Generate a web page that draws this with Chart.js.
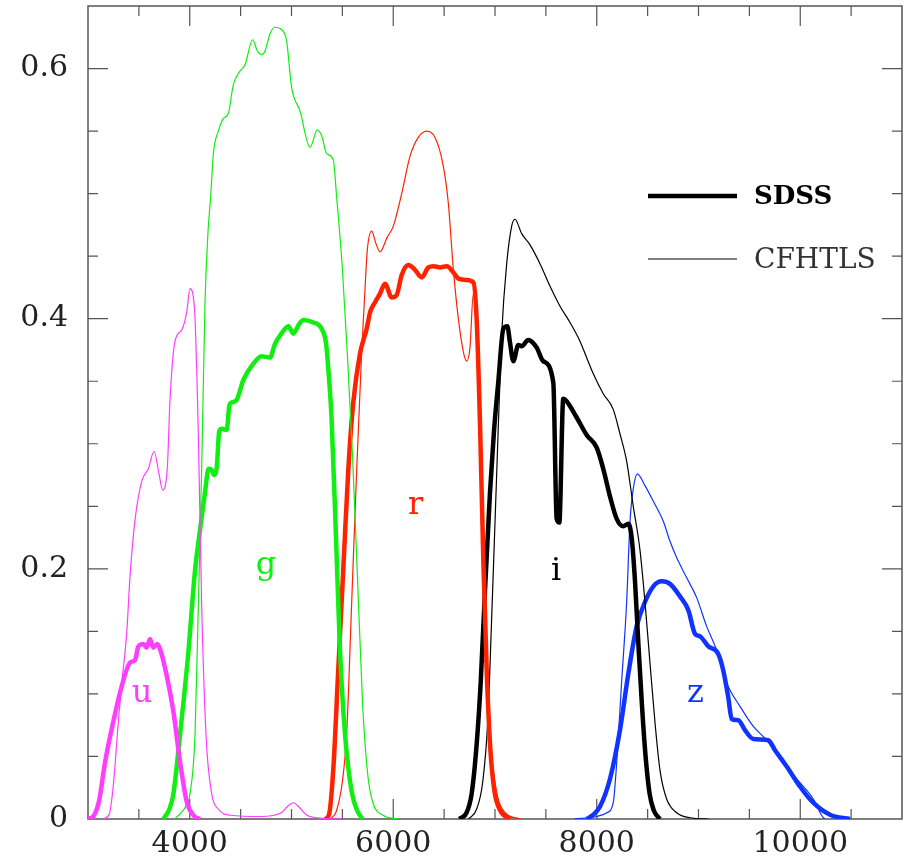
<!DOCTYPE html>
<html>
<head>
<meta charset="utf-8">
<script src="https://cdn.jsdelivr.net/npm/chart.js@4.4.1/dist/chart.umd.min.js"></script>
<style>
  html, body { margin: 0; padding: 0; background: #fff; }
  #wrap { width: 910px; height: 866px; }
</style>
</head>
<body>
<div id="wrap"><canvas id="filterChart"></canvas></div>
<script>
// [wavelength (A), throughput] pairs
const sdssU = [[3000,0],[3060,0.003],[3110,0.015],[3167,0.045],[3249,0.078],[3331,0.106],[3413,0.125],[3462,0.127],[3495,0.138],[3543,0.140],[3576,0.137],[3609,0.144],[3642,0.137],[3681,0.140],[3708,0.136],[3773,0.115],[3839,0.086],[3904,0.046],[3970,0.014],[4035,0.003],[4100,0]];
const cfhtU = [[3150,0],[3210,0.004],[3240,0.02],[3265,0.042],[3300,0.08],[3331,0.108],[3380,0.148],[3413,0.194],[3462,0.239],[3528,0.27],[3593,0.28],[3649,0.294],[3700,0.275],[3733,0.263],[3779,0.28],[3806,0.335],[3855,0.382],[3921,0.391],[3970,0.405],[4002,0.424],[4030,0.42],[4052,0.40],[4085,0.305],[4117,0.172],[4160,0.067],[4216,0.02],[4280,0.008],[4400,0.003],[4700,0.002],[4900,0.005],[4960,0.01],[5018,0.013],[5080,0.009],[5150,0.003],[5250,0.001],[5500,0]];
const sdssG = [[3740,0],[3800,0.008],[3839,0.02],[3904,0.067],[3986,0.133],[4052,0.199],[4101,0.231],[4150,0.261],[4185,0.28],[4216,0.279],[4240,0.275],[4264,0.28],[4290,0.31],[4314,0.312],[4363,0.311],[4390,0.331],[4412,0.333],[4461,0.335],[4527,0.351],[4625,0.364],[4707,0.37],[4789,0.369],[4838,0.38],[4900,0.388],[4969,0.394],[5018,0.388],[5070,0.395],[5116,0.399],[5215,0.397],[5296,0.392],[5340,0.38],[5362,0.36],[5394,0.32],[5437,0.226],[5477,0.134],[5526,0.068],[5591,0.022],[5650,0.006],[5700,0]];
const cfhtG = [[3850,0],[3904,0.004],[3960,0.01],[4002,0.02],[4052,0.068],[4085,0.173],[4117,0.28],[4150,0.413],[4180,0.47],[4205,0.497],[4232,0.532],[4281,0.55],[4330,0.56],[4379,0.564],[4428,0.587],[4494,0.598],[4543,0.603],[4618,0.623],[4665,0.614],[4707,0.611],[4740,0.614],[4790,0.628],[4838,0.633],[4904,0.631],[4952,0.622],[5001,0.585],[5084,0.566],[5182,0.537],[5254,0.551],[5297,0.546],[5345,0.532],[5411,0.527],[5444,0.497],[5500,0.44],[5550,0.37],[5600,0.29],[5650,0.19],[5700,0.09],[5750,0.035],[5800,0.013],[5900,0.003],[6050,0]];
const sdssR = [[5330,0],[5370,0.004],[5411,0.04],[5460,0.12],[5509,0.2],[5558,0.279],[5607,0.333],[5673,0.372],[5739,0.392],[5772,0.405],[5820,0.413],[5870,0.42],[5919,0.428],[5985,0.417],[6034,0.419],[6083,0.435],[6148,0.443],[6214,0.439],[6280,0.433],[6345,0.441],[6395,0.442],[6460,0.441],[6526,0.442],[6591,0.437],[6640,0.432],[6720,0.431],[6788,0.429],[6820,0.399],[6853,0.315],[6886,0.205],[6920,0.115],[6955,0.055],[6995,0.022],[7050,0.007],[7150,0]];
const cfhtR = [[5380,0],[5440,0.006],[5500,0.03],[5542,0.068],[5591,0.172],[5640,0.278],[5689,0.372],[5720,0.42],[5745,0.455],[5788,0.47],[5830,0.46],[5870,0.4535],[5940,0.465],[6001,0.474],[6083,0.5],[6165,0.53],[6246,0.545],[6329,0.55],[6410,0.545],[6492,0.522],[6541,0.4925],[6590,0.44],[6640,0.4],[6689,0.3735],[6721,0.366],[6754,0.377],[6787,0.42],[6830,0.37],[6865,0.28],[6900,0.18],[6935,0.1],[6970,0.05],[7020,0.02],[7100,0.005],[7250,0]];
const sdssI = [[6650,0],[6720,0.005],[6770,0.02],[6820,0.06],[6860,0.11],[6900,0.18],[6950,0.26],[6990,0.31],[7033,0.35],[7082,0.392],[7121,0.394],[7147,0.381],[7180,0.366],[7229,0.379],[7262,0.378],[7327,0.383],[7409,0.377],[7475,0.366],[7573,0.349],[7606,0.24],[7632,0.237],[7671,0.336],[7704,0.334],[7803,0.321],[7901,0.307],[7999,0.297],[8064,0.28],[8130,0.258],[8196,0.24],[8261,0.234],[8310,0.236],[8343,0.225],[8376,0.19],[8409,0.14],[8445,0.09],[8480,0.05],[8520,0.02],[8560,0.007],[8620,0]];
const cfhtI = [[6740,0],[6820,0.008],[6880,0.03],[6930,0.08],[6967,0.16],[7017,0.277],[7066,0.388],[7115,0.444],[7164,0.474],[7196,0.4795],[7262,0.468],[7344,0.459],[7442,0.444],[7541,0.426],[7639,0.41],[7737,0.397],[7835,0.382],[7900,0.369],[7966,0.356],[8064,0.34],[8162,0.3275],[8228,0.308],[8294,0.286],[8359,0.25],[8425,0.215],[8474,0.1735],[8523,0.125],[8572,0.0775],[8622,0.0387],[8687,0.016],[8785,0.005],[8916,0.001],[9100,0]];
const sdssZ = [[7900,0],[7960,0.003],[8032,0.01],[8130,0.032],[8228,0.071],[8310,0.116],[8392,0.154],[8474,0.1735],[8556,0.186],[8638,0.19],[8720,0.188],[8818,0.178],[8900,0.167],[8966,0.148],[9015,0.146],[9097,0.138],[9194,0.132],[9243,0.119],[9293,0.097],[9326,0.08],[9391,0.079],[9457,0.071],[9539,0.064],[9686,0.063],[9752,0.055],[9867,0.042],[9997,0.026],[10128,0.013],[10292,0.0034],[10489,0]];
const cfhtZ = [[7780,0],[8000,0.002],[8100,0.005],[8162,0.013],[8196,0.045],[8244,0.109],[8294,0.1735],[8327,0.238],[8359,0.264],[8399,0.276],[8474,0.2665],[8556,0.254],[8654,0.238],[8720,0.222],[8785,0.209],[8883,0.193],[8982,0.177],[9080,0.154],[9178,0.135],[9276,0.109],[9408,0.09],[9539,0.074],[9670,0.063],[9801,0.048],[9965,0.032],[10128,0.016],[10210,0.003],[10240,0]];

const bandNames = ['u', 'g', 'r', 'i', 'z'];
const bandColors = ['#ff3dff', '#11ee11', '#ff2200', '#000000', '#1133ff'];
const bandLabelX = [3531, 4749, 6219, 7600, 8971];
const bandLabelY = [0.0935, 0.1957, 0.2436, 0.191, 0.0935];

const xTickValues = [4000, 6000, 8000, 10000];
const yTickValues = [0, 0.2, 0.4, 0.6];

const sdssCurves = [sdssU, sdssG, sdssR, sdssI, sdssZ];
const cfhtCurves = [cfhtU, cfhtG, cfhtR, cfhtI, cfhtZ];
const toPoints = arr => arr.map(([x, y]) => ({ x, y }));

const datasets = [];
bandNames.forEach((b, i) => {
    datasets.push({ label: 'SDSS ' + b, data: toPoints(sdssCurves[i]), borderColor: bandColors[i], borderWidth: 4.5 });
    datasets.push({ label: 'CFHTLS ' + b, data: toPoints(cfhtCurves[i]), borderColor: bandColors[i], borderWidth: 1.2 });
});

const serif = 'DejaVu Serif';

// box around the plot with inward ticks on all four sides
const frameAndTicks = {
    id: 'frameAndTicks',
    beforeDatasetsDraw(chart) {
        const { ctx, chartArea: a, scales: { x, y } } = chart;
        ctx.save();
        ctx.strokeStyle = '#555';
        ctx.lineWidth = 1.5;
        ctx.strokeRect(a.left, a.top, a.right - a.left, a.bottom - a.top);
        ctx.lineWidth = 1.2;
        ctx.beginPath();
        for (let v = 3500; v < x.max; v += 500) {
            const px = x.getPixelForValue(v);
            const len = v % 2000 === 0 ? 20 : 10;
            ctx.moveTo(px, a.bottom); ctx.lineTo(px, a.bottom - len);
            ctx.moveTo(px, a.top); ctx.lineTo(px, a.top + len);
        }
        for (let k = 1; k * 0.05 < y.max; k++) {
            const py = y.getPixelForValue(k * 0.05);
            const len = k % 4 === 0 ? 20 : 10;
            ctx.moveTo(a.left, py); ctx.lineTo(a.left + len, py);
            ctx.moveTo(a.right, py); ctx.lineTo(a.right - len, py);
        }
        ctx.stroke();
        ctx.restore();
    },
    afterDatasetsDraw(chart) {
        const { ctx, scales: { x, y } } = chart;
        ctx.save();
        // band letters
        ctx.font = '32px "' + serif + '"';
        ctx.textAlign = 'center';
        ctx.textBaseline = 'alphabetic';
        bandNames.forEach((b, i) => {
            ctx.fillStyle = bandColors[i];
            ctx.fillText(b, x.getPixelForValue(bandLabelX[i]), y.getPixelForValue(bandLabelY[i]));
        });
        // legend
        ctx.strokeStyle = '#000';
        ctx.lineWidth = 4.5;
        ctx.beginPath(); ctx.moveTo(648, 196); ctx.lineTo(737, 196); ctx.stroke();
        ctx.lineWidth = 1.2;
        ctx.beginPath(); ctx.moveTo(648, 259); ctx.lineTo(737, 259); ctx.stroke();
        ctx.textAlign = 'left';
        ctx.fillStyle = '#000';
        ctx.font = 'bold 26px "' + serif + '"';
        ctx.fillText('SDSS', 754, 204);
        ctx.fillStyle = '#333';
        ctx.font = '28px "' + serif + '"';
        ctx.fillText('CFHTLS', 754, 268);
        ctx.restore();
    }
};

const ctx = document.getElementById('filterChart');
const filterChart = new Chart(ctx, {
    type: 'line',
    data: { datasets },
    options: {
        responsive: true,
        maintainAspectRatio: false,
        animation: false,
        layout: { padding: { top: 6, right: 8, left: 0, bottom: 0 } },
        elements: {
            point: { radius: 0 },
            line: { cubicInterpolationMode: 'monotone', fill: false }
        },
        plugins: { legend: { display: false }, tooltip: { enabled: false } },
        scales: {
            x: {
                type: 'linear',
                min: 3000,
                max: 11000,
                grid: { display: false, drawTicks: false },
                border: { display: false },
                afterBuildTicks: s => { s.ticks = xTickValues.map(v => ({ value: v })); },
                afterFit: s => { s.height = 47; s.paddingLeft = 0; s.paddingRight = 0; },
                ticks: {
                    autoSkip: false,
                    maxRotation: 0,
                    padding: 7,
                    color: '#222',
                    font: { family: serif, size: 30 },
                    callback: v => String(v)
                }
            },
            y: {
                min: 0,
                max: 0.65,
                grid: { display: false, drawTicks: false },
                border: { display: false },
                afterBuildTicks: s => { s.ticks = yTickValues.map(v => ({ value: v })); },
                afterFit: s => { s.width = 88; s.paddingTop = 0; s.paddingBottom = 0; },
                ticks: {
                    padding: 20,
                    color: '#222',
                    font: { family: serif, size: 30 },
                    callback: v => (v === 0 ? '0' : v.toFixed(1))
                }
            }
        }
    },
    plugins: [frameAndTicks]
});
</script>
</body>
</html>
